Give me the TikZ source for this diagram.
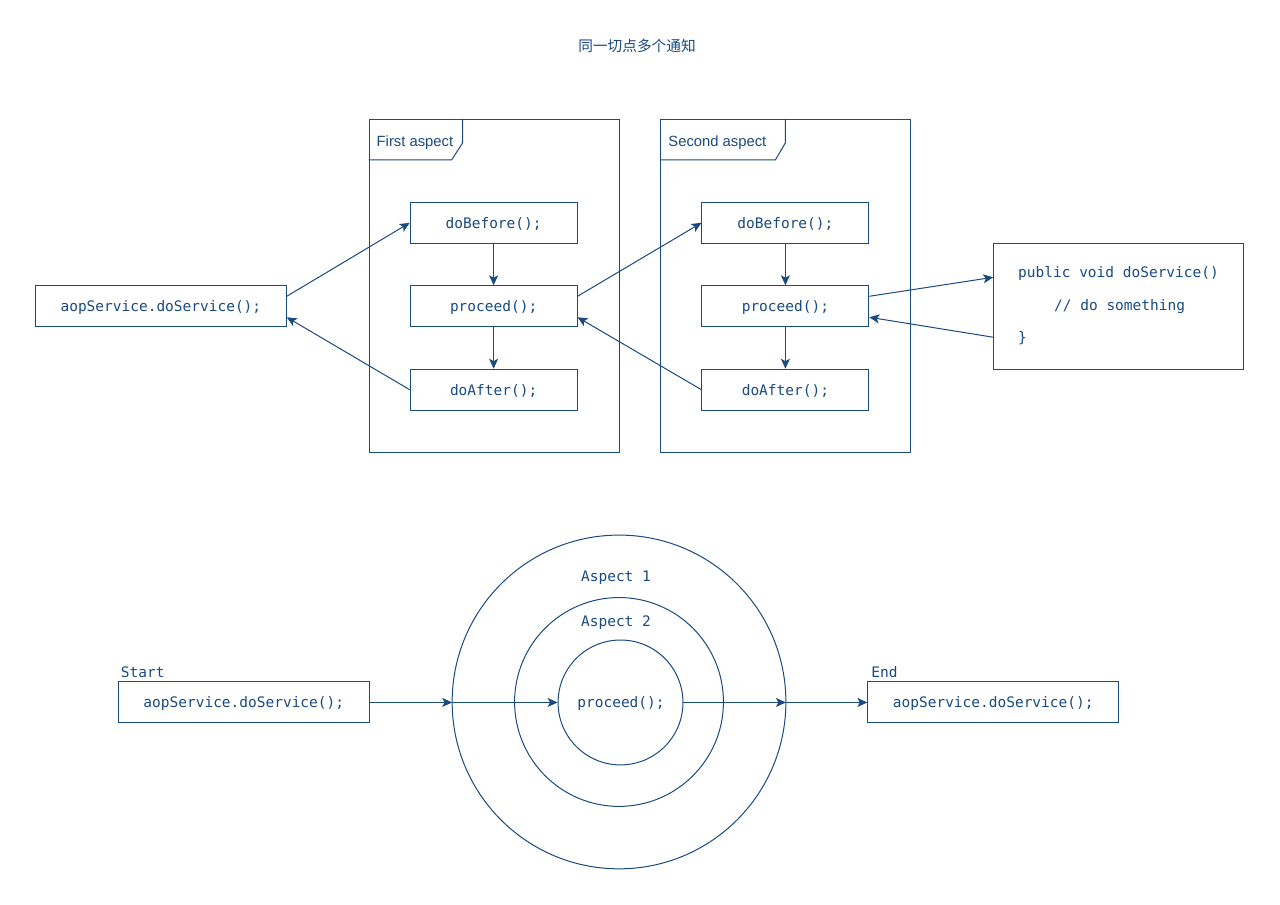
\documentclass[tikz,border=0pt]{standalone}
\usepackage{fontspec}
\setmainfont{Liberation Sans}
\setmonofont{DejaVu Sans Mono}
\newfontfamily\cjk{Noto Sans CJK SC}
\usetikzlibrary{arrows.meta,calc}
\definecolor{ink}{HTML}{1A4A80}
\begin{document}
\begin{tikzpicture}[x=1pt,y=-1pt,
  every path/.style={draw=ink,line width=1pt},
  frm/.style={draw=ink,line width=1pt,rectangle,inner sep=0pt,minimum width=250pt,minimum height=333pt},
  codebox/.style={draw=ink,line width=1pt,rectangle,inner sep=0pt,minimum width=167pt,minimum height=41pt,font=\ttfamily\fontsize{14.5}{17}\selectfont,text=ink,text depth=0pt,text height=11pt},
  widebox/.style={codebox,minimum width=251pt},
  lbl/.style={inner sep=0pt,text=ink,font=\fontsize{14.8}{17}\selectfont},
  mono/.style={inner sep=0pt,text=ink,font=\ttfamily\fontsize{14.5}{17}\selectfont},
  ring/.style={draw=ink,line width=1pt,circle,inner sep=0pt},
  arr/.style={draw=ink,line width=1pt,-{Stealth[length=10pt,width=9pt,inset=2.5pt]}}
]
\useasboundingbox (0,0) rectangle (1280,904);
\fill[white] (0,0) rectangle (1280,904);

% title
\node[lbl,font=\cjk\fontsize{14.7}{17}\selectfont] (title) at (637,45) {同一切点多个通知};

% frames
\node[frm] (frame1) at (494,285.5) {};
\node[frm] (frame2) at (786,285.5) {};
\draw[ink] ($(frame1.north west)+(0,41)$) -- ++(83,0) -- ++(11,-17) -- ++(0,-24);
\draw[ink] ($(frame2.north west)+(0,41)$) -- ++(115,0) -- ++(10,-17) -- ++(0,-24);
\node[lbl,anchor=west] (t1) at (376,142) {First aspect};
\node[lbl,anchor=west] (t2) at (668,142) {Second aspect};

% boxes in frame 1
\node[codebox] (b1) at (493.5,222.5) {doBefore();};
\node[codebox] (p1) at (493.5,306) {proceed();};
\node[codebox] (a1) at (493.5,389.5) {doAfter();};
% boxes in frame 2
\node[codebox] (b2) at (785.5,222.5) {doBefore();};
\node[codebox] (p2) at (785.5,306) {proceed();};
\node[codebox] (a2) at (785.5,389.5) {doAfter();};

% caller
\node[widebox] (caller) at (160.5,306) {aopService.doService();};

% service
\node[draw=ink,line width=1pt,rectangle,inner sep=0pt,minimum width=250pt,minimum height=126pt] (svc) at (1119,306) {};
\node[mono,anchor=west] (s1) at (1018,273) {public void doService()};
\node[mono,anchor=west] (s2) at (1054,306) {// do something};
\node[mono,anchor=west] (s3) at (1018,338) {\}};

% vertical arrows
\draw[arr] (b1) -- (p1);
\draw[arr] (p1) -- (a1);
\draw[arr] (b2) -- (p2);
\draw[arr] (p2) -- (a2);

% cross arrows
\draw[arr] ([yshift=10pt]caller.east) -- (b1.west);
\draw[arr] (a1.west) -- ([yshift=-11pt]caller.east);
\draw[arr] ([yshift=10pt]p1.east) -- (b2.west);
\draw[arr] (a2.west) -- ([yshift=-11pt]p1.east);
\draw[arr] ([yshift=10pt]p2.east) -- ([yshift=29pt]svc.west);
\draw[arr] ([yshift=-31pt]svc.west) -- ([yshift=-11pt]p2.east);

% bottom diagram
\node[ring,minimum size=334pt] (outer) at (619,702) {};
\node[ring,minimum size=209pt] (mid) at (619,702) {};
\node[ring,minimum size=125pt] (inner) at (620.5,702.5) {};
\node[mono] (asp1) at (616,578) {Aspect 1};
\node[mono] (asp2) at (616,623) {Aspect 2};
\node[mono] (proc) at (621,703.5) {proceed();};

\node[widebox] (start) at (243.5,702.5) {aopService.doService();};
\node[widebox] (end) at (993.5,702.5) {aopService.doService();};
\node[mono,anchor=west] (startl) at (120,672) {Start};
\node[mono,anchor=west] (endl) at (871,672) {End};

\coordinate (ow) at (452,702.5);
\coordinate (oe) at (786,702.5);
\draw[arr] (start.east) -- (ow);
\draw[arr] (ow) -- (inner.west);
\draw[arr] (inner.east) -- (oe);
\draw[arr] (oe) -- (end.west);
\end{tikzpicture}
\end{document}
